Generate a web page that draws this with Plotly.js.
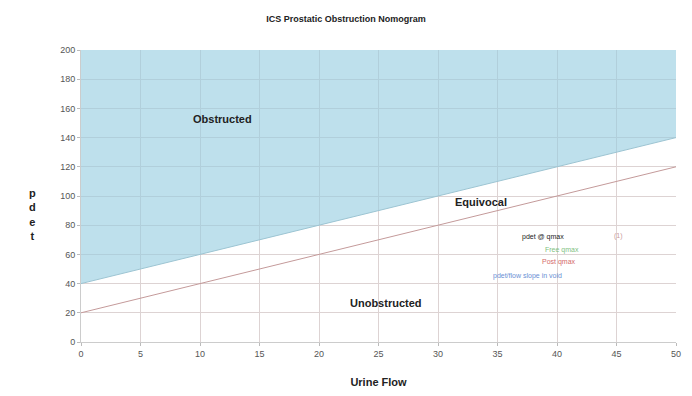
<!DOCTYPE html>
<html>
<head>
<meta charset="utf-8">
<script src="https://cdn.plot.ly/plotly-3.0.1.min.js"></script>
<style>html,body{margin:0;padding:0;background:#fff;}#chart{width:692px;height:396px;}</style>
</head>
<body>
<div id="chart"></div>
<script>
// Data
var flowX = [0, 50];
var obstructedBoundary = [40, 140];
var equivocalBoundary = [20, 120];
var topLimit = [200, 200];
var regionLabels = ["Obstructed", "Equivocal", "Unobstructed"];
var regionX = [11.9, 33.6, 25.6];
var regionY = [153, 96, 27];
var keyLabels = ["pdet @ qmax", "Free qmax", "Post qmax", "pdet/flow slope in void", "(1)"];
var keyX = [38.8, 40.4, 40.2, 37.5, 45.2];
var keyY = [72, 63, 55, 45, 72.5];
var keyColors = ["#222222", "#7fbf7f", "#d46a6a", "#6a8fd4", "#c99a9a"];

var traces = [
  {x: flowX, y: obstructedBoundary, mode: 'lines', line: {color: '#9cc4d2', width: 1}, hoverinfo: 'skip', showlegend: false},
  {x: flowX, y: topLimit, mode: 'lines', line: {color: 'rgba(0,0,0,0)', width: 0}, fill: 'tonexty', fillcolor: 'rgba(150,205,225,0.62)', hoverinfo: 'skip', showlegend: false},
  {x: flowX, y: equivocalBoundary, mode: 'lines', line: {color: '#c49a9a', width: 1}, hoverinfo: 'skip', showlegend: false}
];

var annotations = [];
for (var i = 0; i < regionLabels.length; i++) {
  annotations.push({x: regionX[i], y: regionY[i], xref: 'x', yref: 'y', text: '<b>' + regionLabels[i] + '</b>', showarrow: false, font: {family: 'Liberation Sans, Arial, sans-serif', size: 11, color: '#222'}});
}
for (var j = 0; j < keyLabels.length; j++) {
  annotations.push({x: keyX[j], y: keyY[j], xref: 'x', yref: 'y', text: keyLabels[j], showarrow: false, font: {family: 'Liberation Sans, Arial, sans-serif', size: 7, color: keyColors[j]}});
}
annotations.push({x: -0.09, y: 0.435, xref: 'paper', yref: 'paper', text: '<b>p<br>d<br>e<br>t</b>', showarrow: false, font: {family: 'Liberation Sans, Arial, sans-serif', size: 11, color: '#222'}});

var layout = {
  width: 692, height: 396,
  margin: {l: 81, r: 16, t: 50, b: 54},
  paper_bgcolor: '#ffffff', plot_bgcolor: '#ffffff',
  title: {text: '<b>ICS Prostatic Obstruction Nomogram</b>', x: 0.5, xanchor: 'center', y: 0.96, font: {family: 'Liberation Sans, Arial, sans-serif', size: 9, color: '#222'}},
  xaxis: {range: [0, 50], dtick: 5, tick0: 0, showgrid: true, gridcolor: '#ddd3d3', gridwidth: 1, zeroline: false,
    ticks: 'outside', ticklen: 3, tickcolor: '#bbb', showline: true, linecolor: '#ccc',
    tickfont: {family: 'Liberation Sans, Arial, sans-serif', size: 9, color: '#555'},
    title: {text: '<b>Urine Flow</b>', standoff: 20, font: {family: 'Liberation Sans, Arial, sans-serif', size: 11, color: '#222'}}},
  yaxis: {range: [0, 200], dtick: 20, tick0: 0, showgrid: true, gridcolor: '#ddd3d3', gridwidth: 1, zeroline: false,
    ticks: 'outside', ticklen: 3, tickcolor: '#bbb', showline: true, linecolor: '#ccc',
    tickfont: {family: 'Liberation Sans, Arial, sans-serif', size: 9, color: '#555'}},
  annotations: annotations,
  showlegend: false
};

Plotly.newPlot('chart', traces, layout, {displayModeBar: false, staticPlot: true});
</script>
</body>
</html>
